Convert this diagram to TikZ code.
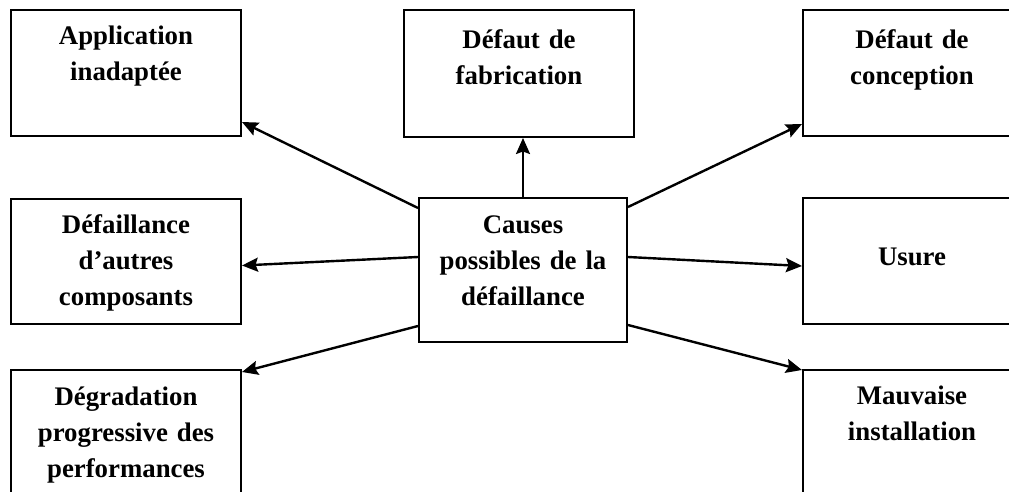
\documentclass[tikz,border=0pt]{standalone}
\usepackage{fontspec}
\setmainfont{Liberation Serif}
\usetikzlibrary{arrows.meta}

\tikzset{
  cbox/.style={draw, line width=2pt, anchor=north west, inner sep=0pt,
    minimum width=230pt, minimum height=126pt},
  ctxt/.style={anchor=base, inner sep=0pt, text width=210pt, align=center,
    font=\bfseries\fontsize{26.8}{36}\selectfont},
  carr/.style={line width=2.4pt, -{Stealth[length=16pt,width=14pt,inset=2.5pt]}}
}

\begin{document}
\begin{tikzpicture}[x=1pt,y=-1pt]
\useasboundingbox (0,0) rectangle (1009,492);
\clip (0,0) rectangle (1009,492);

% les cadres
\node[cbox] (app) at (10,9) {};
\node[cbox, minimum height=127pt] (fab) at (403,9) {};
\node[cbox, minimum width=218pt] (conc) at (802,9) {};
\node[cbox, minimum height=125pt] (autres) at (10,198) {};
\node[cbox, minimum width=208pt, minimum height=144pt] (causes) at (418,197) {};
\node[cbox, minimum width=218pt] (usure) at (802,197) {};
\node[cbox, minimum height=140pt] (degr) at (10,369) {};
\node[cbox, minimum width=218pt, minimum height=140pt] (inst) at (802,369) {};

% les textes
\node[ctxt] (appT) at ([yshift=-36pt]app.north) {Application\\inadaptée};
\node[ctxt] (fabT) at ([yshift=-40pt]fab.north) {Défaut de\\fabrication};
\node[ctxt] (concT) at ([yshift=-40pt]conc.north) {Défaut de\\conception};
\node[ctxt] (autresT) at ([yshift=-35pt]autres.north) {Défaillance\\d’autres\\composants};
\node[ctxt] (causesT) at ([yshift=-36pt]causes.north) {Causes\\possibles de la\\défaillance};
\node[ctxt] (usureT) at ([yshift=-68pt]usure.north) {Usure};
\node[ctxt] (degrT) at ([yshift=-36pt]degr.north) {Dégradation\\progressive des\\performances};
\node[ctxt] (instT) at ([yshift=-35pt]inst.north) {Mauvaise\\installation};

% les fleches
\draw[carr] ([yshift=-11pt]causes.north west) -- ([yshift=15pt]app.south east);
\draw[carr] (causes.north) -- (causes.north |- fab.south);
\draw[carr] ([yshift=-10pt]causes.north east) -- ([yshift=13pt]conc.south west);
\draw[carr] ([yshift=13pt]causes.west) -- ([yshift=-4pt]autres.east);
\draw[carr] ([yshift=13pt]causes.east) -- ([yshift=-5pt]usure.west);
\draw[carr] ([yshift=17pt]causes.south west) -- ([yshift=-3pt]degr.north east);
\draw[carr] ([yshift=18pt]causes.south east) -- ([yshift=-1pt]inst.north west);
\end{tikzpicture}
\end{document}
